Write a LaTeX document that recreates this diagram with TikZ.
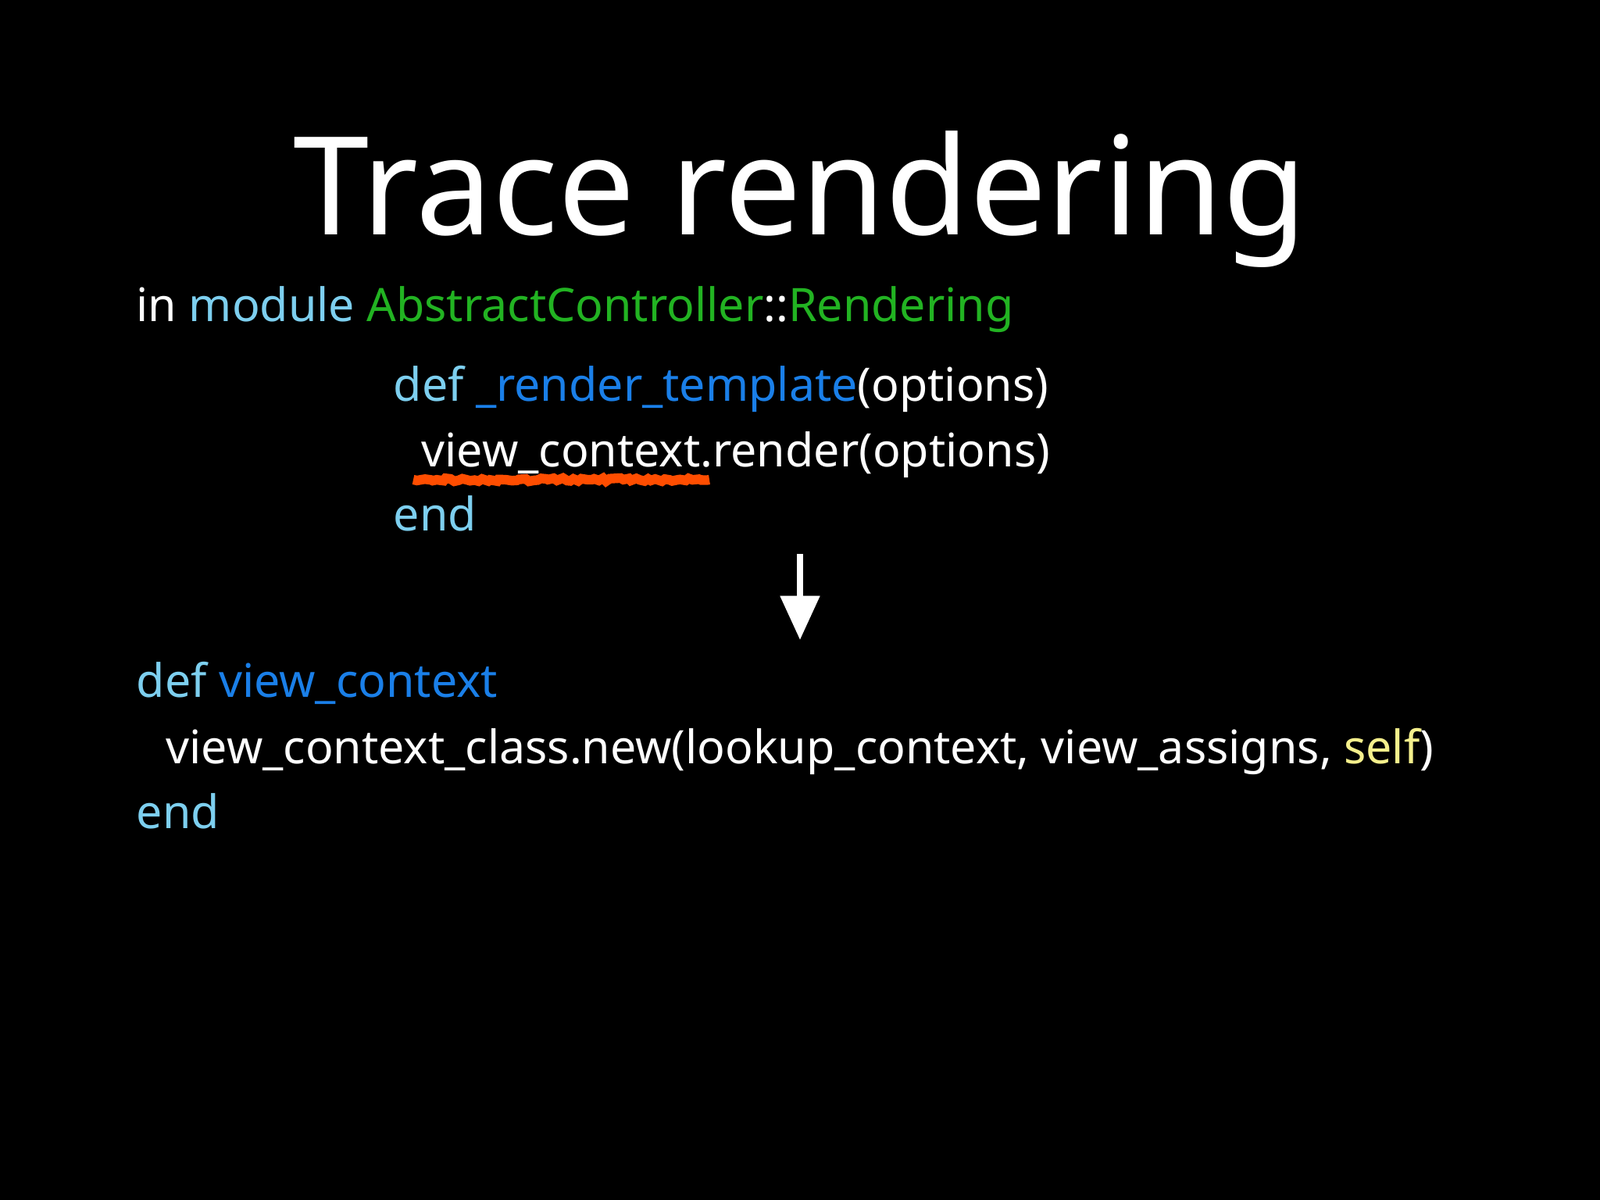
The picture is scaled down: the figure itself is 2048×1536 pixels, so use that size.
\documentclass[tikz,border=0pt]{standalone}
\usepackage{fontspec}
\setmainfont{Noto Sans}
\usetikzlibrary{arrows.meta,decorations.pathmorphing}
\definecolor{lb}{HTML}{7DCFEF}
\definecolor{bl}{HTML}{1A7FE8}
\definecolor{gr}{HTML}{22B322}
\definecolor{ye}{HTML}{F5F08C}
\definecolor{orn}{HTML}{FF4D00}
\begin{document}
\begin{tikzpicture}[x=0.01cm,y=-0.01cm,
  code/.style={anchor=base west,inner sep=0pt,text=white,font=\fontsize{16.8}{20}\selectfont}]
\fill[black] (0,0) rectangle (2048,1536);
\useasboundingbox (0,0) rectangle (2048,1536);
\node[anchor=base,inner sep=0pt,text=white,font=\fontsize{49.7}{58}\selectfont] (title) at (1024,300) {Trace rendering};
\node[code] (l1) at (174,411) {in \textcolor{lb}{module} \textcolor{gr}{AbstractController}::\textcolor{gr}{Rendering}};
\node[code] (l2) at (503,513) {\textcolor{lb}{def} \textcolor{bl}{\_render\_template}(options)};
\node[code] (l3) at (539,597) {view\_context.render(options)};
\node[code] (l4) at (503,679) {\textcolor{lb}{end}};
\coordinate (s1) at (529,614);
\coordinate (s2) at (908,614);
\draw[orn,line width=3.5pt,decorate,decoration={random steps,segment length=1.5pt,amplitude=0.6pt}] (s1) -- (s2);
\coordinate (a1) at (1024,709);
\coordinate (a2) at (1024,819);
\draw[white,line width=2.2pt,-{Triangle[width=14pt,length=16pt]}] (a1) -- (a2);
\node[code] (m1) at (174,892) {\textcolor{lb}{def} \textcolor{bl}{view\_context}};
\node[code] (m2) at (212,977) {view\_context\_class.new(lookup\_context, view\_assigns, \textcolor{ye}{self})};
\node[code] (m3) at (174,1060) {\textcolor{lb}{end}};
\end{tikzpicture}
\end{document}
